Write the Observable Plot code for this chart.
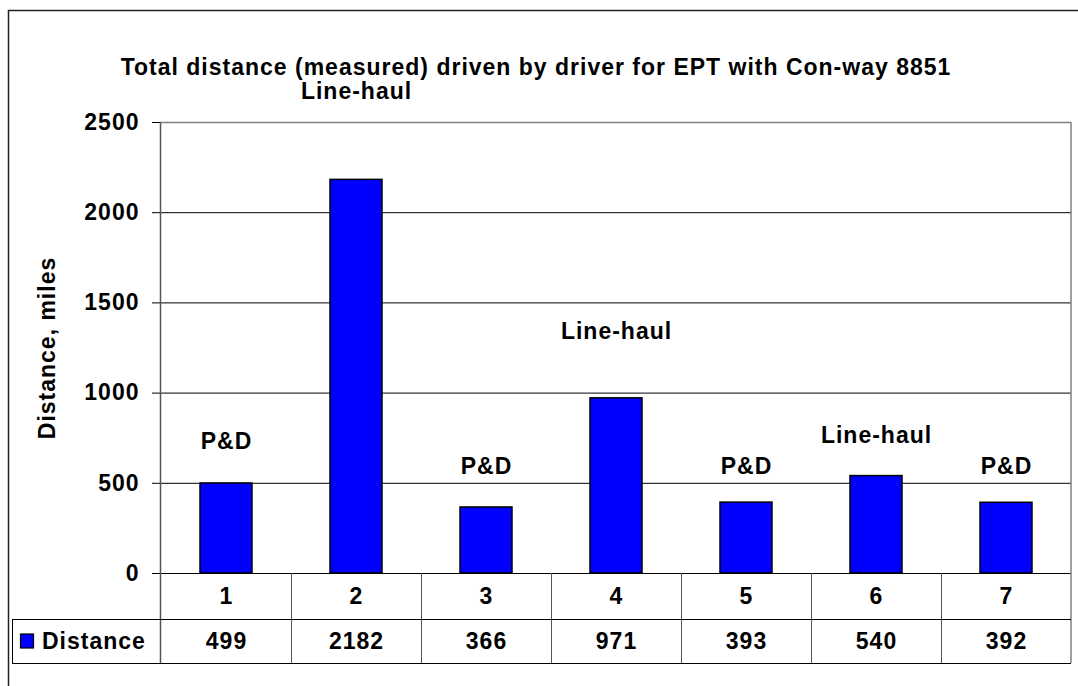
<!DOCTYPE html>
<html>
<head>
<meta charset="utf-8">
<script src="https://cdn.jsdelivr.net/npm/d3@7"></script>
<script src="https://cdn.jsdelivr.net/npm/@observablehq/plot@0.6"></script>
<style>
  html, body { margin: 0; padding: 0; background: #fff; }
  svg { display: block; }
</style>
</head>
<body>
<div id="chart"></div>
<script>
const titleText = "Total distance (measured) driven by driver for EPT with Con-way 8851";
const yLabel = "Distance, miles";
const seriesName = "Distance";
const drivers = ["1", "2", "3", "4", "5", "6", "7"];
const distance = [499, 2182, 366, 971, 393, 540, 392];
const kind = ["P&D", "Line-haul", "P&D", "Line-haul", "P&D", "Line-haul", "P&D"];
// annotation anchor values (in miles)
const labelAt = [732, 2672, 593, 1341, 593, 765, 593];
const yTicks = [0, 500, 1000, 1500, 2000, 2500];

const rows = drivers.map((d, i) => ({driver: d, distance: distance[i], kind: kind[i], labelAt: labelAt[i]}));

const FONT = "'Liberation Sans', Arial, sans-serif";
const FS = 23;
const BLUE = "#0000FF";

const chart = Plot.plot({
  width: 1078,
  height: 686,
  marginLeft: 160,
  marginRight: 7,
  marginTop: 122,
  marginBottom: 113,
  style: {fontFamily: FONT, fontWeight: "bold", fontSize: FS + "px", letterSpacing: "1px", color: "#000", background: "#fff", overflow: "visible"},
  x: {domain: drivers, paddingInner: 0.6, paddingOuter: 0.3, axis: null},
  y: {domain: [0, 2500]},
  marks: [
    Plot.ruleY(yTicks.filter(t => t > 0 && t < 2500), {stroke: "#000", strokeWidth: 1}),
    Plot.ruleY([2500], {stroke: "#808080", strokeWidth: 1.5}),
    Plot.barY(rows, {x: "driver", y: "distance", fill: BLUE, stroke: "#000", strokeWidth: 1.5}),
    Plot.ruleY([0], {stroke: "#000", strokeWidth: 1}),
    Plot.axisY({ticks: yTicks, tickSize: 8, tickPadding: 13, tickFormat: d => String(d),
      label: yLabel, labelAnchor: "center", labelOffset: 122, labelArrow: "none", fontSize: FS}),
    Plot.text(rows, {x: "driver", y: "labelAt", text: "kind", fontSize: FS, fontWeight: "bold"}),
    Plot.text(rows, {x: "driver", text: "driver", frameAnchor: "bottom", lineAnchor: "middle", dy: 23, fontSize: FS, fontWeight: "bold"}),
    Plot.text(rows, {x: "driver", text: d => String(d.distance), frameAnchor: "bottom", lineAnchor: "middle", dy: 68, fontSize: FS, fontWeight: "bold"})
  ]
});

document.getElementById("chart").append(chart);

// Excel-style frame, title and data table drawn from the plot's scales
const xs = chart.scale("x");
const ys = chart.scale("y");
const svg = d3.select(chart);
const left = xs.range[0], right = xs.range[1];
const yZero = ys.apply(0), yTop = ys.apply(2500);
const row1 = yZero + 46, row2 = row1 + 44;
const tableLeft = 12;

const g = svg.append("g").attr("fill", "none");
// outer chart border
g.append("rect").attr("x", 8.5).attr("y", 10.5).attr("width", 1100).attr("height", 700)
  .attr("stroke", "#222").attr("stroke-width", 1.5);
// left axis line extending through table
g.append("line").attr("x1", left + 0.5).attr("x2", left + 0.5).attr("y1", yTop).attr("y2", row2)
  .attr("stroke", "#555").attr("stroke-width", 1.5);
// right border
g.append("line").attr("x1", right).attr("x2", right).attr("y1", yTop).attr("y2", row2)
  .attr("stroke", "#808080").attr("stroke-width", 1.5);
// column boundaries
const step = xs.step;
drivers.slice(1).forEach(d => {
  const bx = Math.round(xs.apply(d) + xs.bandwidth / 2 - step / 2) + 0.5;
  g.append("line").attr("x1", bx).attr("x2", bx).attr("y1", yZero).attr("y2", row2)
    .attr("stroke", "#555").attr("stroke-width", 1);
});
// horizontal table lines
[row1, row2].forEach(yy => {
  g.append("line").attr("x1", tableLeft).attr("x2", right).attr("y1", yy + 0.5).attr("y2", yy + 0.5)
    .attr("stroke", "#000").attr("stroke-width", 1);
});
g.append("line").attr("x1", tableLeft + 0.5).attr("x2", tableLeft + 0.5).attr("y1", row1).attr("y2", row2)
  .attr("stroke", "#000").attr("stroke-width", 1);

// legend key in table
const cy = (row1 + row2) / 2;
svg.append("rect").attr("x", 20.5).attr("y", cy - 7).attr("width", 13).attr("height", 14)
  .attr("fill", BLUE).attr("stroke", "#000").attr("stroke-width", 1.2);
svg.append("text").attr("x", 42).attr("y", cy).attr("dy", "0.35em").attr("text-anchor", "start")
  .attr("font-family", FONT).attr("font-weight", "bold").attr("font-size", FS)
  .attr("fill", "#000").text(seriesName);

// title
svg.append("text").attr("x", 536).attr("y", 67).attr("dy", "0.35em").attr("text-anchor", "middle")
  .attr("font-family", FONT).attr("font-weight", "bold").attr("font-size", FS)
  .attr("fill", "#000").text(titleText);
</script>
</body>
</html>
